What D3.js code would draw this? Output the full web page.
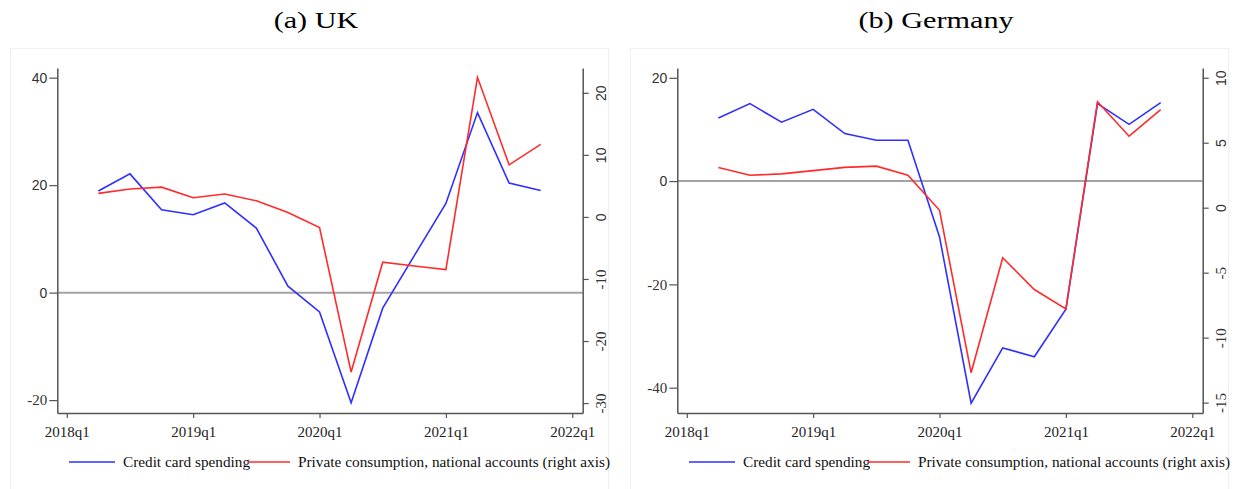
<!DOCTYPE html>
<html lang="en">

<head>
    <meta charset="UTF-8">
    <title>Credit card spending vs private consumption</title>
    <script src="https://cdn.jsdelivr.net/npm/d3@7"></script>
    <style>
        body { margin: 0; background: #fff; }
    </style>
</head>

<body>
    <svg></svg>
</body>
<script>
    // quarters with observations (2018q2 .. 2021q4)
    const quarters = ['2018q2', '2018q3', '2018q4', '2019q1', '2019q2', '2019q3', '2019q4', '2020q1',
        '2020q2', '2020q3', '2020q4', '2021q1', '2021q2', '2021q3', '2021q4'];

    // UK: credit card spending (left axis), private consumption (right axis)
    const ukCard = [18.9, 22.1, 15.4, 14.5, 16.7, 12.0, 1.2, -3.6, -20.5, -2.9, 6.9, 16.6, 33.5, 20.4, 19.0];
    const ukCons = [3.8, 4.5, 4.8, 3.1, 3.7, 2.6, 0.7, -1.7, -25.0, -7.3, -7.9, -8.5, 22.5, 8.4, 11.7];

    // Germany
    const deCard = [12.2, 15.0, 11.4, 13.9, 9.2, 7.9, 7.9, -10.8, -43.0, -32.3, -34.0, -24.8, 15.0, 11.0, 15.2];
    const deCons = [3.1, 2.5, 2.6, 2.85, 3.1, 3.2, 2.5, -0.2, -12.7, -3.85, -6.3, -7.8, 8.15, 5.5, 7.55];

    const xTickLabels = ['2018q1', '2019q1', '2020q1', '2021q1', '2022q1'];
    const ukLeftTicks = [-20, 0, 20, 40];
    const ukRightTicks = [-30, -20, -10, 0, 10, 20];
    const deLeftTicks = [-40, -20, 0, 20];
    const deRightTicks = [-15, -10, -5, 0, 5, 10];
    const legendLabels = ['Credit card spending', 'Private consumption, national accounts (right axis)'];

    const width = 1240, height = 489;
    const serif = '"Liberation Serif", "DejaVu Serif", serif';
    const sans = '"Liberation Sans", Arial, sans-serif';
    const blue = '#2f2fff', red = '#ff2b2b';

    const svg = d3.select('svg').attr('width', width).attr('height', height);

    // quarter string -> index (2018q1 = 0)
    const qIndex = s => (+s.slice(0, 4) - 2018) * 4 + (+s.slice(5) - 1);

    const panels = [
        { title: '(a) UK', dx: 0, card: ukCard, cons: ukCons, left: [-22.4, 41.8], right: [-31.6, 24.0], lt: ukLeftTicks, rt: ukRightTicks },
        { title: '(b) Germany', dx: 620, card: deCard, cons: deCons, left: [-44.9, 21.9], right: [-15.8, 10.75], lt: deLeftTicks, rt: deRightTicks }
    ];

    const plot = { left: 57.3, right: 582.7, top: 68, bottom: 413 };

    panels.forEach(p => {
        const g = svg.append('g').attr('transform', `translate(${p.dx},0)`);

        // faint panel frame
        g.append('rect')
            .attr('x', 10.5).attr('y', 48.5)
            .attr('width', 598).attr('height', 460)
            .attr('fill', 'none').attr('stroke', '#f0f0f0');

        // title: the original face is wider, so stretch horizontally a bit
        g.append('text')
            .attr('transform', 'translate(316,27.5) scale(1.26,1)')
            .attr('text-anchor', 'middle')
            .attr('font-family', serif).attr('font-size', 24)
            .text(p.title);

        const x = d3.scaleLinear().domain([-0.3, 16.33]).range([plot.left, plot.right]);
        const yL = d3.scaleLinear().domain(p.left).range([plot.bottom, plot.top]);
        const yR = d3.scaleLinear().domain(p.right).range([plot.bottom, plot.top]);

        // zero reference line (left axis)
        g.append('line')
            .attr('x1', plot.left).attr('x2', plot.right)
            .attr('y1', yL(0)).attr('y2', yL(0))
            .attr('stroke', '#a3a3a3').attr('stroke-width', 2);

        // left axis
        const axL = g.append('g')
            .attr('transform', `translate(${plot.left},0)`)
            .call(d3.axisLeft(yL).tickValues(p.lt).tickFormat(d => String(d))
                .tickSize(8).tickPadding(2).tickSizeOuter(0));
        axL.selectAll('text')
            .attr('font-family', d => d < 0 ? serif : sans)
            .attr('font-size', d => d < 0 ? 15 : 14)
            .attr('fill', '#333');

        // right axis, labels turned vertical
        const axR = g.append('g')
            .attr('transform', `translate(${plot.right},0)`)
            .call(d3.axisRight(yR).tickValues(p.rt).tickFormat(d => String(d))
                .tickSize(6).tickPadding(0).tickSizeOuter(0));
        axR.selectAll('text')
            .attr('font-family', d => d < 0 ? serif : sans)
            .attr('font-size', d => d < 0 ? 15 : 14)
            .attr('fill', '#333')
            .attr('text-anchor', 'middle')
            .attr('dy', '0.35em')
            .attr('transform', 'translate(18,0) rotate(-90)')
            .attr('x', 0);

        // bottom axis
        const axB = g.append('g')
            .attr('transform', `translate(0,${plot.bottom})`)
            .call(d3.axisBottom(x).tickValues(xTickLabels.map(qIndex)).tickSize(5).tickPadding(8).tickSizeOuter(0)
                .tickFormat((d, i) => xTickLabels[i]));
        axB.selectAll('text')
            .attr('font-family', serif).attr('font-size', 15).attr('fill', '#222');

        [axL, axR, axB].forEach(a => {
            a.select('.domain').attr('stroke', '#555').attr('stroke-width', 1.5);
            a.selectAll('.tick line').attr('stroke', '#555').attr('stroke-width', 1.2);
        });

        // series
        const lineL = d3.line().x((d, i) => x(qIndex(quarters[i]))).y(d => yL(d));
        const lineR = d3.line().x((d, i) => x(qIndex(quarters[i]))).y(d => yR(d));

        g.append('path').datum(p.card)
            .attr('d', lineL).attr('fill', 'none')
            .attr('stroke', blue).attr('stroke-width', 1.6);
        g.append('path').datum(p.cons)
            .attr('d', lineR).attr('fill', 'none')
            .attr('stroke', red).attr('stroke-width', 1.6);

        // legend
        const leg = g.append('g').attr('transform', 'translate(0,462)');
        const items = [
            { x1: 69, x2: 115, tx: 123, w: 127, color: blue, label: legendLabels[0] },
            { x1: 248, x2: 290, tx: 298, w: 312, color: red, label: legendLabels[1] }
        ];
        items.forEach(it => {
            leg.append('line')
                .attr('x1', it.x1).attr('x2', it.x2)
                .attr('stroke', it.color).attr('stroke-width', 1.6);
            leg.append('text')
                .attr('x', it.tx).attr('dy', '0.32em')
                .attr('font-family', serif).attr('font-size', 15).attr('fill', '#111')
                .attr('textLength', it.w).attr('lengthAdjust', 'spacingAndGlyphs')
                .text(it.label);
        });
    });
</script>

</html>
